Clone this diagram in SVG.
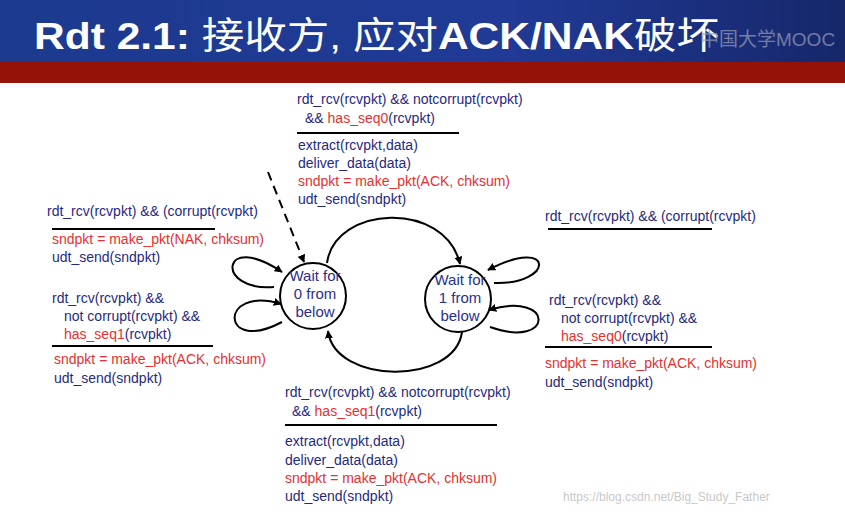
<svg xmlns="http://www.w3.org/2000/svg" width="845" height="517" viewBox="0 0 845 517">
<defs>
<linearGradient id="bg" x1="0" y1="0" x2="1" y2="0"><stop offset="0" stop-color="#1c3a8e"/><stop offset="0.6" stop-color="#203a96"/><stop offset="1" stop-color="#16276a"/></linearGradient>
<marker id="ah" viewBox="0 0 10 10" refX="9" refY="5" markerWidth="8" markerHeight="8" orient="auto" markerUnits="userSpaceOnUse"><path d="M0,0 L10,5 L0,10 z" fill="#000"/></marker>
</defs>
<style>
text{font-family:"Liberation Sans",Arial,sans-serif;font-size:14px;fill:#1f2a80}
.r{fill:#e53030}
.st{font-size:15px;text-anchor:middle;fill:#2a2f8f}
.c{fill:none;stroke:#000;stroke-width:2}
.ul{stroke:#000;stroke-width:2}
</style>
<rect width="845" height="517" fill="#fff"/>
<rect width="845" height="62" fill="url(#bg)"/>
<rect y="62" width="845" height="21" fill="#951208"/>
<text x="34" y="49" textLength="685" lengthAdjust="spacingAndGlyphs" style="font-size:37px;font-weight:bold;fill:#fff;font-family:'Liberation Sans','Noto Sans CJK SC',sans-serif">Rdt 2.1: <tspan style="font-weight:normal">接收方, 应对</tspan>ACK/NAK<tspan style="font-weight:normal">破坏</tspan></text>
<text x="700" y="46" style="font-size:19px;fill:#9aa0b8;opacity:0.7;font-family:'Liberation Sans','Noto Sans CJK SC',sans-serif">中国大学MOOC</text>

<g id="connectors">
<path class="c" d="M268,172 L304,262" stroke-width="2.5" stroke-dasharray="9,6" marker-end="url(#ah)"/>
<path class="c" d="M327,263 C335,205 445,200 460,264" marker-end="url(#ah)"/>
<path class="c" d="M462,332 C455,385 335,385 328,331" marker-end="url(#ah)"/>
<path class="c" d="M274,287 C215,292 220,230 282,272" marker-end="url(#ah)"/>
<path class="c" d="M282,322 C220,355 218,285 281,304" marker-end="url(#ah)"/>
<path class="c" d="M494,283 C555,285 555,235 488,270" marker-end="url(#ah)"/>
<path class="c" d="M490,327 C555,350 555,290 489,310" marker-end="url(#ah)"/>
</g>

<g id="s0"><circle cx="313" cy="296" r="33" fill="#fff" stroke="#000" stroke-width="2"/>
<text class="st" x="315" y="281">Wait for</text><text class="st" x="315" y="299">0 from</text><text class="st" x="315" y="317">below</text></g>
<g id="s1"><circle cx="458" cy="299" r="33" fill="#fff" stroke="#000" stroke-width="2"/>
<text class="st" x="460" y="285">Wait for</text><text class="st" x="460" y="303">1 from</text><text class="st" x="460" y="321">below</text></g>

<g id="lbl-top">
<text x="297" y="104">rdt_rcv(rcvpkt) &amp;&amp; notcorrupt(rcvpkt)</text>
<text x="305" y="123">&amp;&amp; <tspan class="r">has_seq0</tspan>(rcvpkt)</text>
<line class="ul" x1="297" y1="133" x2="459" y2="133"/>
<text x="298" y="150">extract(rcvpkt,data)</text>
<text x="298" y="168">deliver_data(data)</text>
<text x="298" y="186" class="r">sndpkt = make_pkt(ACK, chksum)</text>
<text x="298" y="204">udt_send(sndpkt)</text>
</g>
<g id="lbl-left1">
<text x="47" y="216">rdt_rcv(rcvpkt) &amp;&amp; (corrupt(rcvpkt)</text>
<line class="ul" x1="52" y1="229" x2="215" y2="229"/>
<text x="52" y="244" class="r">sndpkt = make_pkt(NAK, chksum)</text>
<text x="52" y="262">udt_send(sndpkt)</text>
</g>
<g id="lbl-left2">
<text x="52" y="303">rdt_rcv(rcvpkt) &amp;&amp;</text>
<text x="64" y="321">not corrupt(rcvpkt) &amp;&amp;</text>
<text x="64" y="339"><tspan class="r">has_seq1</tspan>(rcvpkt)</text>
<line class="ul" x1="52" y1="346" x2="213" y2="346"/>
<text x="54" y="364" class="r">sndpkt = make_pkt(ACK, chksum)</text>
<text x="54" y="383">udt_send(sndpkt)</text>
</g>
<g id="lbl-right1">
<text x="545" y="221">rdt_rcv(rcvpkt) &amp;&amp; (corrupt(rcvpkt)</text>
<line class="ul" x1="548" y1="229" x2="712" y2="229"/>
</g>
<g id="lbl-right2">
<text x="549" y="305">rdt_rcv(rcvpkt) &amp;&amp;</text>
<text x="561" y="323">not corrupt(rcvpkt) &amp;&amp;</text>
<text x="561" y="341"><tspan class="r">has_seq0</tspan>(rcvpkt)</text>
<line class="ul" x1="545" y1="347" x2="712" y2="347"/>
<text x="545" y="368" class="r">sndpkt = make_pkt(ACK, chksum)</text>
<text x="545" y="387">udt_send(sndpkt)</text>
</g>
<g id="lbl-bottom">
<text x="285" y="397">rdt_rcv(rcvpkt) &amp;&amp; notcorrupt(rcvpkt)</text>
<text x="292" y="416">&amp;&amp; <tspan class="r">has_seq1</tspan>(rcvpkt)</text>
<line class="ul" x1="285" y1="425" x2="497" y2="425"/>
<text x="285" y="446">extract(rcvpkt,data)</text>
<text x="285" y="465">deliver_data(data)</text>
<text x="285" y="483" class="r">sndpkt = make_pkt(ACK, chksum)</text>
<text x="285" y="501">udt_send(sndpkt)</text>
</g>
<text x="563" y="501" style="font-size:12px;fill:#c8c8c8">https://blog.csdn.net/Big_Study_Father</text>
</svg>
